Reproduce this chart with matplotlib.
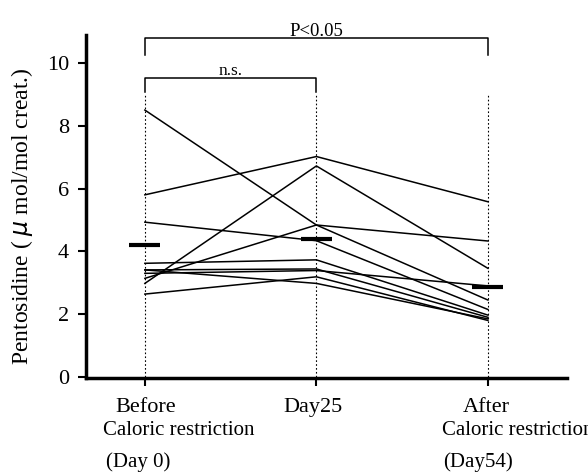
import matplotlib
matplotlib.use("Agg")
import matplotlib.pyplot as plt

plt.rcParams["font.family"] = ["Liberation Serif", "DejaVu Serif"]

stages = ["Before", "Day25", "After"]
x_pos = [0, 1, 2]

# one row per subject: Before, Day25, After
subjects = [
    [8.50, 4.84, 2.45],
    [5.80, 7.02, 5.58],
    [4.93, 4.34, 2.15],
    [3.14, 4.84, 4.33],
    [2.98, 6.72, 3.46],
    [3.62, 3.73, 1.97],
    [3.41, 2.98, 1.85],
    [2.64, 3.19, 1.80],
    [3.30, 3.39, 2.90],
    [3.41, 3.44, 1.90],
]
means = [4.19, 4.38, 2.85]

fig = plt.figure(figsize=(5.88, 4.73), dpi=100)
ax = fig.add_axes([0.146, 0.201, 0.818, 0.725])

for s in subjects:
    ax.plot(x_pos, s, color="black", lw=1.1)

for x, m in zip(x_pos, means):
    ax.plot([x - 0.09, x + 0.09], [m, m], color="black", lw=3, solid_capstyle="butt")

for x in x_pos:
    ax.plot([x, x], [0, 9.0], color="black", lw=0.8, ls=(0, (1.5, 2)))

# significance brackets
ax.plot([0, 0, 1, 1], [9.08, 9.52, 9.52, 9.08], color="black", lw=1.1)
ax.text(0.5, 9.62, "n.s.", ha="center", va="baseline", fontsize=12.5)
ax.plot([0, 0, 2, 2], [10.24, 10.78, 10.78, 10.24], color="black", lw=1.1, clip_on=False)
ax.text(1.0, 10.87, "P<0.05", ha="center", va="baseline", fontsize=13.5)

ax.set_xlim(-0.344, 2.46)
ax.set_ylim(-0.03, 10.89)
ax.set_yticks([0, 2, 4, 6, 8, 10])
ax.set_xticks(x_pos)
ax.set_xticklabels([])
ax.tick_params(axis="both", direction="out", length=6, width=1.5, labelsize=16, pad=6)
for side in ["top", "right"]:
    ax.spines[side].set_visible(False)
for side in ["left", "bottom"]:
    ax.spines[side].set_linewidth(2.5)

ax.set_ylabel("Pentosidine ( $\\mu$ mol/mol creat.)", fontsize=17)
ax.yaxis.set_label_coords(-0.106, 0.472)

tr = ax.get_xaxis_transform()
ax.text(0.005, -0.085, "Before", transform=tr, ha="center", va="center", fontsize=16)
ax.text(-0.245, -0.152, "Caloric restriction", transform=tr, ha="left", va="center", fontsize=15)
ax.text(-0.04, -0.245, "(Day 0)", transform=tr, ha="center", va="center", fontsize=15)
ax.text(0.98, -0.085, "Day25", transform=tr, ha="center", va="center", fontsize=16)
ax.text(1.99, -0.085, "After", transform=tr, ha="center", va="center", fontsize=16)
ax.text(1.73, -0.152, "Caloric restriction", transform=tr, ha="left", va="center", fontsize=15)
ax.text(1.94, -0.245, "(Day54)", transform=tr, ha="center", va="center", fontsize=15)

fig.savefig("out.png", dpi=100)
